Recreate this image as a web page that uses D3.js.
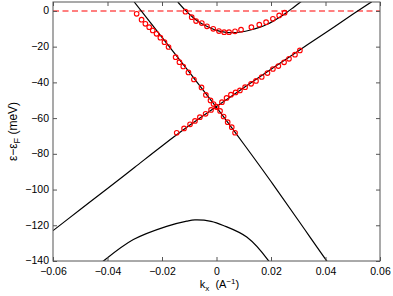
<!DOCTYPE html>
<html>
<head>
<meta charset="utf-8">
<script src="https://cdn.jsdelivr.net/npm/d3@7"></script>
<style>
  body { margin: 0; background: #fff; }
  text { font-family: "Liberation Sans", Arial, sans-serif; }
</style>
</head>
<body>
<svg id="chart" width="393" height="296"></svg>
<script>
// ticks
const xTicks = [-0.06, -0.04, -0.02, 0, 0.02, 0.04, 0.06];
const xTickLabels = ["\u22120.06", "\u22120.04", "\u22120.02", "0", "0.02", "0.04", "0.06"];
const yTicks = [0, -20, -40, -60, -80, -100, -120, -140];
const yTickLabels = ["0", "\u221220", "\u221240", "\u221260", "\u221280", "\u2212100", "\u2212120", "\u2212140"];

const fermiLevel = 0;

// black model bands [k, E]
const bandUpper = [[-0.0142, 5], [-0.0112, 0], [-0.0085, -3.8], [-0.006, -6.6], [-0.003, -9.0],
  [0, -10.9], [0.003, -11.9], [0.006, -12.2], [0.009, -11.8], [0.0125, -10.7], [0.016, -9.1],
  [0.0184, -7.6], [0.0208, -5.7], [0.0233, -3.4], [0.0255, -1.1], [0.028, 1.7], [0.0313, 5.5]];
const bandA = [[-0.06, -123], [-0.05, -111.2], [-0.04, -99.4], [-0.03, -87.5], [-0.02, -75.6],
  [-0.01, -64.2], [0, -53.5], [0.01, -43], [0.02, -32.6], [0.03, -22.4], [0.04, -12.2],
  [0.05, -1.9], [0.057, 5.2]];
const bandB = [[-0.0302, 5], [-0.02, -14.8], [-0.01, -34.3], [0, -54], [0.01, -74.5],
  [0.02, -95.5], [0.03, -117.2], [0.0405, -140], [0.042, -143]];
const bandLower = [[-0.043, -142], [-0.0415, -140], [-0.0305, -128], [-0.0183, -120.6],
  [-0.0109, -117.7], [-0.0079, -117], [-0.002, -117.8], [0.0025, -120.1], [0.0111, -126.6],
  [0.019, -139.7], [0.0195, -141]];

// measured points (red circles)
const pointsUpper = [[-0.0114, -0.4], [-0.0091, -3.5], [-0.0075, -5.7], [-0.0054, -6.8], [-0.0035, -8.6],
  [-0.0012, -10.0], [0.0009, -11.3], [0.0028, -11.9], [0.0046, -11.9], [0.0068, -11.4], [0.0090, -10.5],
  [0.0128, -9.1], [0.0157, -7.7], [0.0182, -6.3], [0.0207, -4.4], [0.0230, -2.5], [0.0250, -1.0]];
const pointsA = [[-0.0146, -68.2], [-0.0119, -65.8], [-0.0097, -63.5], [-0.0079, -61.6], [-0.0061, -59.5],
  [-0.0040, -57.6], [-0.0020, -55.4], [0.0000, -53.5], [0.0020, -51.1], [0.0037, -48.7], [0.0053, -46.9],
  [0.0070, -45.6], [0.0086, -44.5], [0.0105, -42.7], [0.0127, -40.8], [0.0145, -39.2], [0.0166, -37.0],
  [0.0187, -34.8], [0.0207, -32.5], [0.0227, -30.9], [0.0248, -28.8], [0.0266, -26.8], [0.0288, -24.5],
  [0.0306, -22.1]];
const pointsB = [[-0.0293, -1.6], [-0.0275, -4.9], [-0.0261, -7.2], [-0.0247, -9.1], [-0.0234, -10.9],
  [-0.0220, -12.8], [-0.0206, -15.0], [-0.0191, -17.5], [-0.0176, -20.2], [-0.0150, -25.9],
  [-0.0136, -28.7], [-0.0122, -31.1], [-0.0103, -34.4], [-0.0083, -38.4], [-0.0055, -42.8],
  [-0.0039, -47.0], [-0.0022, -50.1], [-0.0011, -52.1], [0.0000, -53.8], [0.0013, -56.0],
  [0.0026, -59.1], [0.0041, -62.3], [0.0056, -65.1], [0.0068, -68.2]];

const W = 393, H = 296;
const m = {left: 53, right: 13, top: 2, bottom: 35};
const iw = W - m.left - m.right, ih = H - m.top - m.bottom;

const svg = d3.select("#chart");
const g = svg.append("g").attr("transform", `translate(${m.left},${m.top})`);

const x = d3.scaleLinear().domain([-0.06, 0.06]).range([0, iw]);
const y = d3.scaleLinear().domain([-140, 5]).range([ih, 0]);

svg.append("defs").append("clipPath").attr("id", "clip")
  .append("rect").attr("width", iw).attr("height", ih);

const plot = g.append("g").attr("clip-path", "url(#clip)");

// fermi level
plot.append("line")
  .attr("x1", 0).attr("x2", iw)
  .attr("y1", y(fermiLevel)).attr("y2", y(fermiLevel))
  .attr("stroke", "#ff0000").attr("stroke-width", 1.1)
  .attr("stroke-dasharray", "6,3.5");

const line = d3.line().x(d => x(d[0])).y(d => y(d[1])).curve(d3.curveCatmullRom);

[bandUpper, bandA, bandB, bandLower].forEach(b => {
  plot.append("path").datum(b)
    .attr("d", line)
    .attr("fill", "none")
    .attr("stroke", "#000")
    .attr("stroke-width", 1.2);
});

[pointsUpper, pointsA, pointsB].forEach(p => {
  plot.append("g").selectAll("circle").data(p).join("circle")
    .attr("cx", d => x(d[0])).attr("cy", d => y(d[1]))
    .attr("r", 2.3)
    .attr("fill", "none")
    .attr("stroke", "#ff0000")
    .attr("stroke-width", 1.1);
});

// axes, ticks pointing in
const axisColor = "#555";
function styleAxis(sel) {
  sel.select(".domain").remove();
  sel.selectAll(".tick line").attr("stroke", axisColor);
  sel.selectAll(".tick text").attr("fill", "#000").attr("font-size", 10.5)
    .attr("font-family", "'Liberation Sans', Arial, sans-serif");
}

g.append("g").attr("transform", `translate(0,${ih})`)
  .call(d3.axisBottom(x).tickValues(xTicks).tickFormat((d, i) => xTickLabels[i])
    .tickSizeInner(-4).tickSizeOuter(0).tickPadding(7))
  .call(styleAxis);
g.append("g")
  .call(d3.axisTop(x).tickValues(xTicks).tickFormat("").tickSizeInner(-4).tickSizeOuter(0))
  .call(styleAxis);
g.append("g")
  .call(d3.axisLeft(y).tickValues(yTicks).tickFormat((d, i) => yTickLabels[i])
    .tickSizeInner(-4).tickSizeOuter(0).tickPadding(4))
  .call(styleAxis)
  .selectAll(".tick text").attr("dy", "0.28em");
g.append("g").attr("transform", `translate(${iw},0)`)
  .call(d3.axisRight(y).tickValues(yTicks).tickFormat("").tickSizeInner(-4).tickSizeOuter(0))
  .call(styleAxis);

g.append("rect")
  .attr("width", iw).attr("height", ih)
  .attr("fill", "none").attr("stroke", axisColor).attr("stroke-width", 1);

// axis labels
const xl = svg.append("text")
  .attr("x", m.left + x(0) + 3).attr("y", 288)
  .attr("text-anchor", "middle").attr("font-size", 11);
xl.append("tspan").text("k");
xl.append("tspan").attr("font-size", 8).attr("dy", 3).text("x");
xl.append("tspan").attr("dy", -3).text("\u00a0\u00a0(A");
xl.append("tspan").attr("font-size", 8).attr("dy", -4).text("\u22121");
xl.append("tspan").attr("dy", 4).text(")");

const yl = svg.append("text")
  .attr("transform", `translate(17,${m.top + ih / 2}) rotate(-90)`)
  .attr("text-anchor", "middle").attr("font-size", 12);
yl.append("tspan").text("\u03b5\u2212\u03b5");
yl.append("tspan").attr("font-size", 9).attr("dy", 3).text("F");
yl.append("tspan").attr("dy", -3).text(" (meV)");
</script>
</body>
</html>
